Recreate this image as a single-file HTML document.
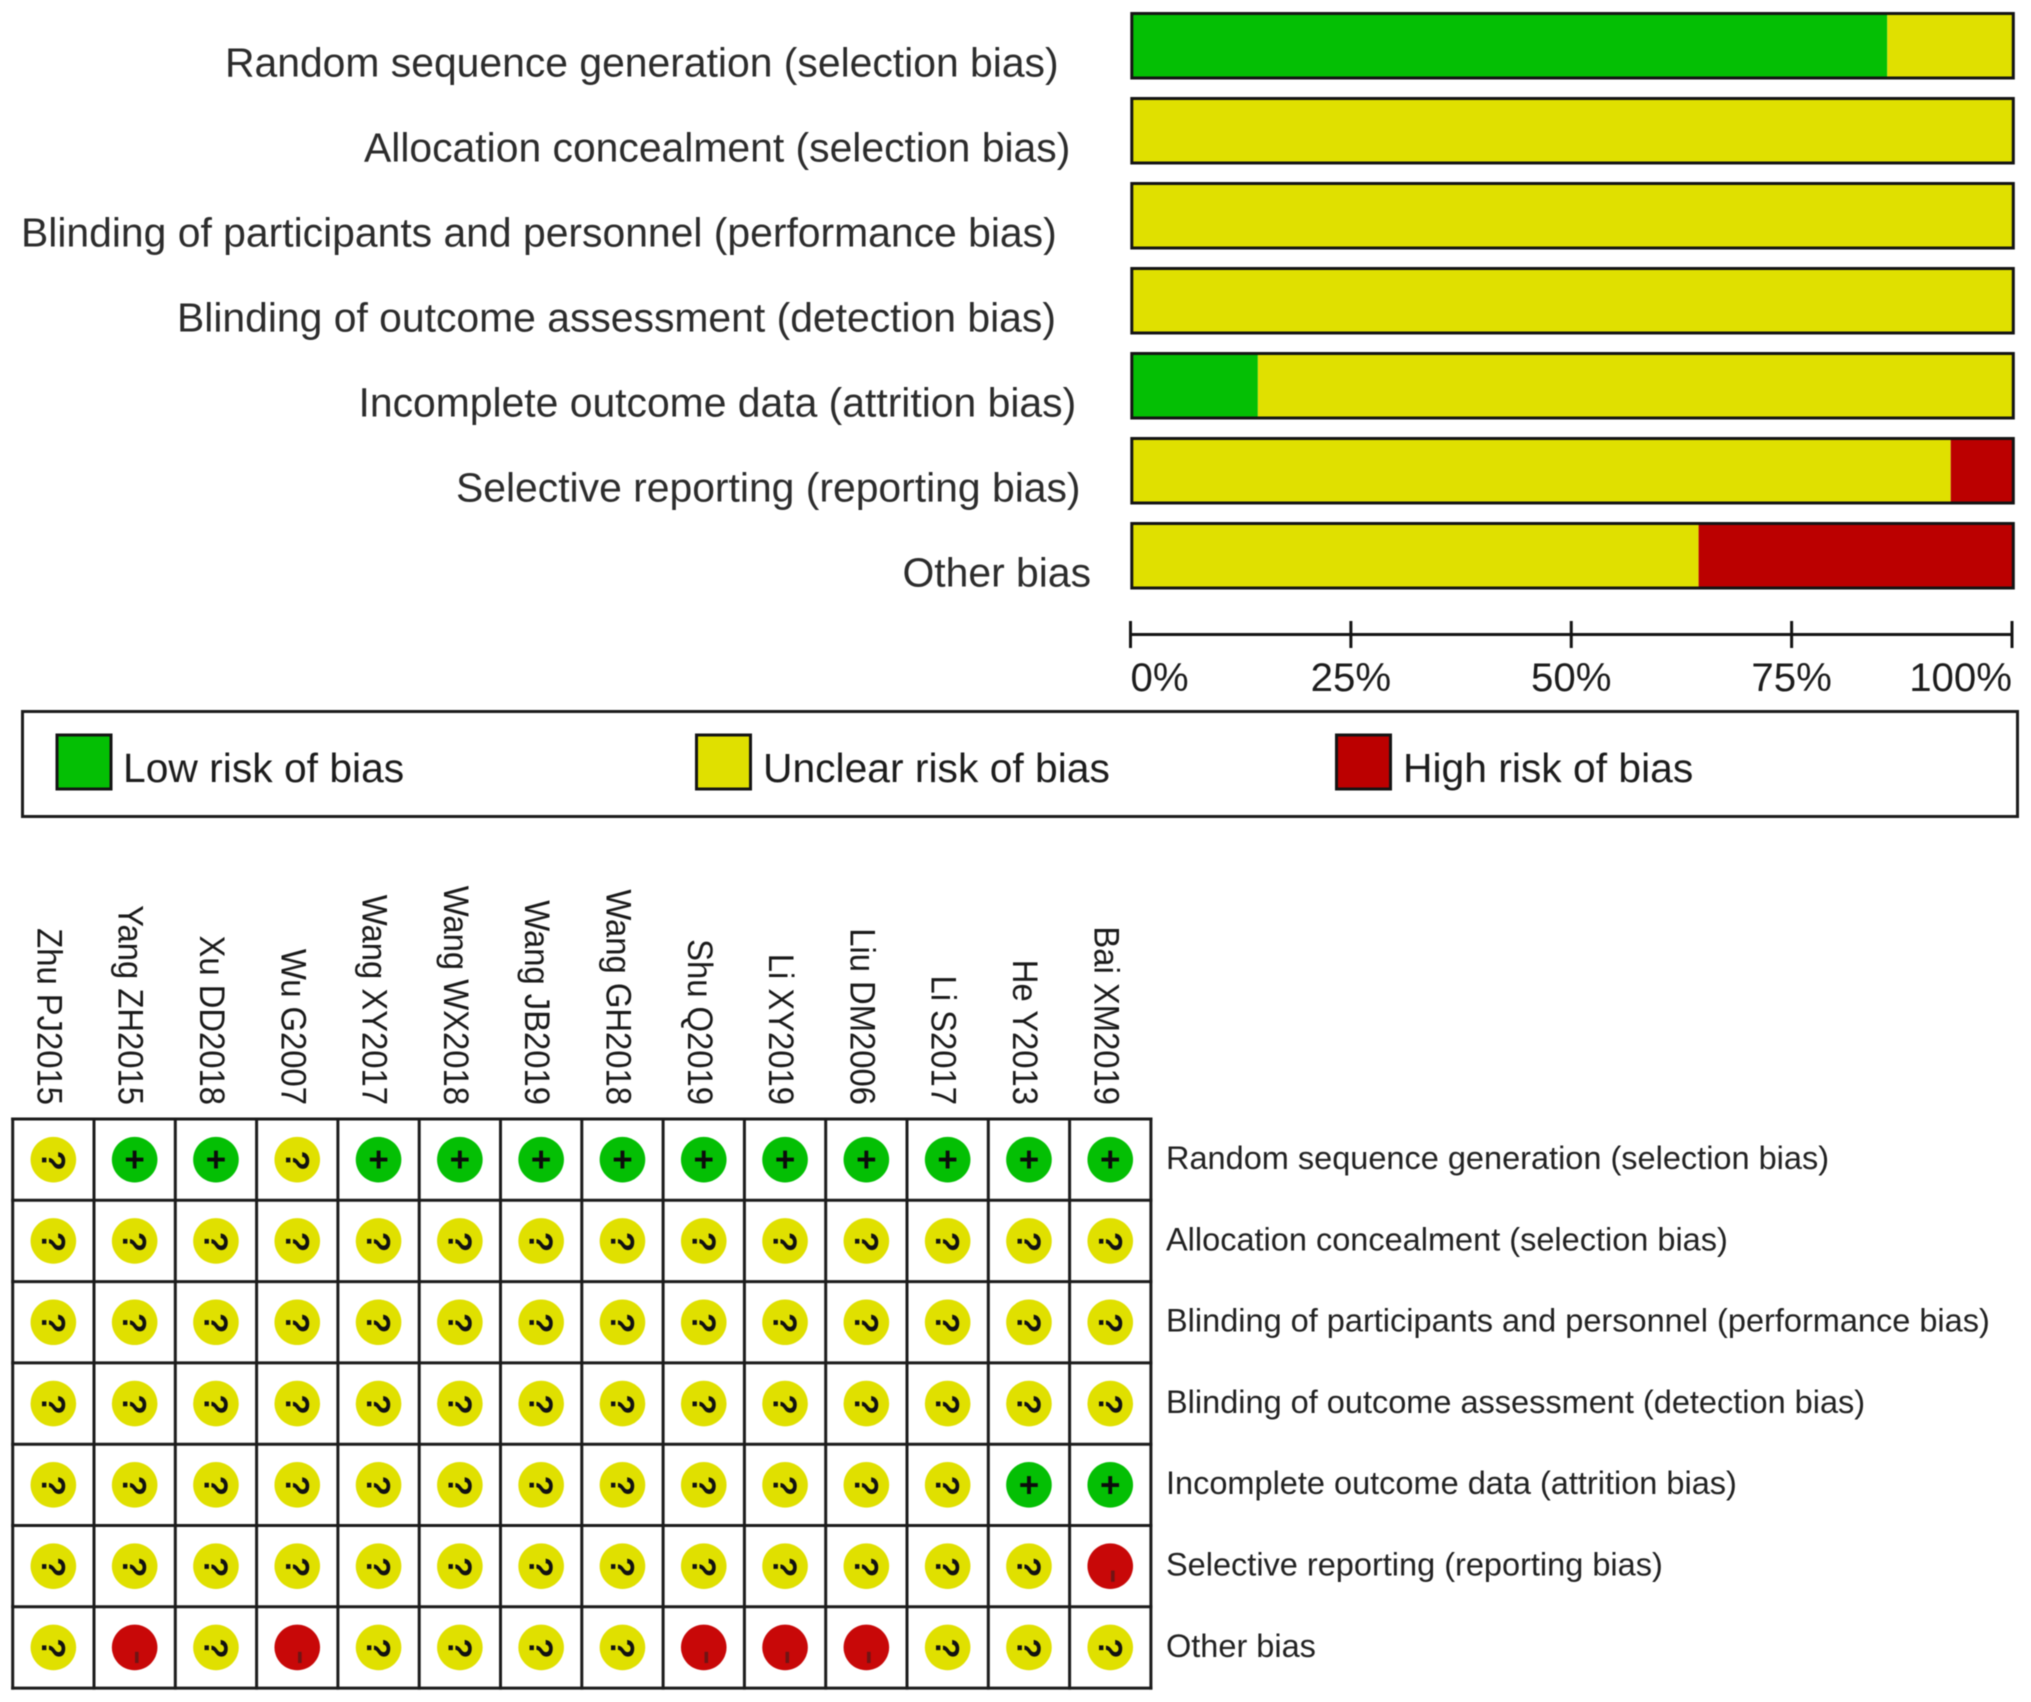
<!DOCTYPE html>
<html lang="en">
<head>
<meta charset="utf-8">
<title>Risk of bias summary</title>
<style>
html,body{margin:0;padding:0;background:#fff;width:2031px;height:1702px;overflow:hidden}
svg{display:block;filter:blur(0.6px)}
text{font-family:"Liberation Sans",Arial,sans-serif}
.top-label{font-size:40.87px;fill:#2c2c2c}
.legend-label{font-size:40.8px;fill:#1c1c1c}
</style>
</head>
<body>
<svg id="chart" xmlns="http://www.w3.org/2000/svg" width="2031" height="1702" viewBox="0 0 2031 1702">
  <rect x="0" y="0" width="2031" height="1702" fill="#fff"/>
  <g>
    <text class="top-label" x="225" y="76.5">Random sequence generation (selection bias)</text>
    <text class="top-label" x="364" y="161.5">Allocation concealment (selection bias)</text>
    <text class="top-label" x="21" y="246.5">Blinding of participants and personnel (performance bias)</text>
    <text class="top-label" x="177" y="331.5">Blinding of outcome assessment (detection bias)</text>
    <text class="top-label" x="358.5" y="416.5">Incomplete outcome data (attrition bias)</text>
    <text class="top-label" x="456" y="501.5">Selective reporting (reporting bias)</text>
    <text class="top-label" x="902.5" y="586.5">Other bias</text>
  </g>
  <g id="bars"></g>
  <g id="axis"></g>
  <g>
    <rect x="22.5" y="711.5" width="1995" height="105" fill="#fff" stroke="#1c1c1c" stroke-width="3"/>
    <rect x="57" y="735" width="54" height="54" fill="#04bf04" stroke="#141414" stroke-width="3"/>
    <text class="legend-label" x="123" y="782">Low risk of bias</text>
    <rect x="696.5" y="735" width="54" height="54" fill="#e0e000" stroke="#141414" stroke-width="3"/>
    <text class="legend-label" x="763" y="782">Unclear risk of bias</text>
    <rect x="1336.5" y="735" width="54" height="54" fill="#bb0000" stroke="#141414" stroke-width="3"/>
    <text class="legend-label" x="1403" y="782">High risk of bias</text>
  </g>
  <g id="matrix"></g>
</svg>
<script>
const domains = [
  'Random sequence generation (selection bias)',
  'Allocation concealment (selection bias)',
  'Blinding of participants and personnel (performance bias)',
  'Blinding of outcome assessment (detection bias)',
  'Incomplete outcome data (attrition bias)',
  'Selective reporting (reporting bias)',
  'Other bias'
];
const lowPct = [85.7, 0, 0, 0, 14.3, 0, 0];
const unclearPct = [14.3, 100, 100, 100, 85.7, 92.9, 64.3];
const highPct = [0, 0, 0, 0, 0, 7.1, 35.7];
const tickValues = [0, 25, 50, 75, 100];
const studies = ['Zhu PJ2015','Yang ZH2015','Xu DD2018','Wu G2007','Wang XY2017','Wang WX2018','Wang JB2019','Wang GH2018','Shu Q2019','Li XY2019','Liu DM2006','Li S2017','He Y2013','Bai XM2019'];
const judgmentsRandom     = ['?','+','+','?','+','+','+','+','+','+','+','+','+','+'];
const judgmentsAllocation = ['?','?','?','?','?','?','?','?','?','?','?','?','?','?'];
const judgmentsPersonnel  = ['?','?','?','?','?','?','?','?','?','?','?','?','?','?'];
const judgmentsOutcome    = ['?','?','?','?','?','?','?','?','?','?','?','?','?','?'];
const judgmentsAttrition  = ['?','?','?','?','?','?','?','?','?','?','?','?','+','+'];
const judgmentsReporting  = ['?','?','?','?','?','?','?','?','?','?','?','?','?','-'];
const judgmentsOther      = ['?','-','?','-','?','?','?','?','-','-','-','?','?','?'];
const judgments = [judgmentsRandom, judgmentsAllocation, judgmentsPersonnel, judgmentsOutcome, judgmentsAttrition, judgmentsReporting, judgmentsOther];

const NS = 'http://www.w3.org/2000/svg';
const GREEN = '#04bf04', YELLOW = '#e0e000', RED = '#bb0000', INK = '#141414';

function mk(tag, parent, attrs, txt) {
  const el = document.createElementNS(NS, tag);
  for (const k in attrs) el.setAttribute(k, attrs[k]);
  if (txt !== undefined) el.textContent = txt;
  parent.appendChild(el);
  return el;
}

/* axis functions */
const barX = p => 1131.8 + p / 100 * 881.5;
const barY = i => 13.5 + i * 85;
const BAR_H = 64.5;
const tickX = v => 1130.5 + v / 100 * 881.5;
const colX = j => 12.7 + j * 81.3;
const rowY = i => 1119 + i * 81.3;
const CELL_W = 81.3, CELL_H = 81.3;

/* stacked bars */
const barsG = document.getElementById('bars');
domains.forEach((d, i) => {
  let start = 0;
  [[lowPct, GREEN, 'low'], [unclearPct, YELLOW, 'unclear'], [highPct, RED, 'high']].forEach(s => {
    const v = s[0][i];
    if (v > 0) {
      const seg = mk('rect', barsG, {x: barX(start), y: barY(i), width: barX(start + v) - barX(start), height: BAR_H, fill: s[1]});
      
      
      start += v;
    }
  });
  const outline = mk('rect', barsG, {x: barX(0), y: barY(i), width: barX(100) - barX(0), height: BAR_H, fill: 'none', stroke: INK, 'stroke-width': 3});
  
  
});

/* x axis */
const axisG = document.getElementById('axis');
const axisLine = mk('line', axisG, {x1: tickX(0), x2: tickX(100), y1: 634.5, y2: 634.5, stroke: INK, 'stroke-width': 3});


tickValues.forEach((v, k) => {
  const tick = mk('line', axisG, {x1: tickX(v), x2: tickX(v), y1: 621, y2: 648, stroke: INK, 'stroke-width': 3});
  
  
  const anchor = k === 0 ? 'start' : (k === tickValues.length - 1 ? 'end' : 'middle');
  const lab = mk('text', axisG, {x: tickX(v), y: 691, 'text-anchor': anchor, 'font-size': 40.2, fill: '#1c1c1c'}, v + '%');
  
  
});

/* matrix */
const mG = document.getElementById('matrix');
studies.forEach((s, j) => {
  const cx = colX(j) + CELL_W / 2;
  const lab = mk('text', mG, {transform: 'translate(' + (cx - 16) + ',1105) rotate(90) scale(1,1.07)', 'text-anchor': 'end', 'font-size': 32.8, fill: '#1a1a1a'}, s);
  
  
});
domains.forEach((d, i) => {
  const lab = mk('text', mG, {x: 1166, y: rowY(i) + 50, 'font-size': 32.5, fill: '#222'}, d);
  
  
  studies.forEach((s, j) => {
    const cx = colX(j) + CELL_W / 2, cy = rowY(i) + CELL_H / 2;
    const v = judgments[i][j];
    const fill = v === '+' ? GREEN : (v === '-' ? '#c80808' : YELLOW);
    const c = mk('circle', mG, {cx: cx, cy: cy, r: 22.8, fill: fill});
    
    
    let t;
    if (v === '+') {
      t = mk('text', mG, {x: cx, y: cy + 12, 'text-anchor': 'middle', 'font-size': 35, 'font-weight': 'bold', fill: '#0c0c0c'}, '+');
    } else if (v === '?') {
      t = mk('text', mG, {transform: 'translate(' + cx + ',' + (cy + 1) + ') rotate(90)', x: 0, y: 11.5, 'text-anchor': 'middle', 'font-size': 33, 'font-weight': 'bold', fill: '#111'}, '?');
    } else {
      t = mk('text', mG, {transform: 'translate(' + (cx + 2) + ',' + (cy + 10) + ') rotate(90)', x: 0, y: 12, 'text-anchor': 'middle', 'font-size': 46, fill: '#701414'}, '-');
    }
    
    
  });
});
for (let j = 0; j <= studies.length; j++) {
  const vl = mk('line', mG, {x1: colX(j), x2: colX(j), y1: rowY(0) - 1.5, y2: rowY(domains.length) + 1.5, stroke: '#1c1c1c', 'stroke-width': 3});
  
  
}
for (let i = 0; i <= domains.length; i++) {
  const hl = mk('line', mG, {x1: colX(0) - 1.5, x2: colX(studies.length) + 1.5, y1: rowY(i), y2: rowY(i), stroke: '#1c1c1c', 'stroke-width': 3});
  
  
}
</script>
</body>
</html>
